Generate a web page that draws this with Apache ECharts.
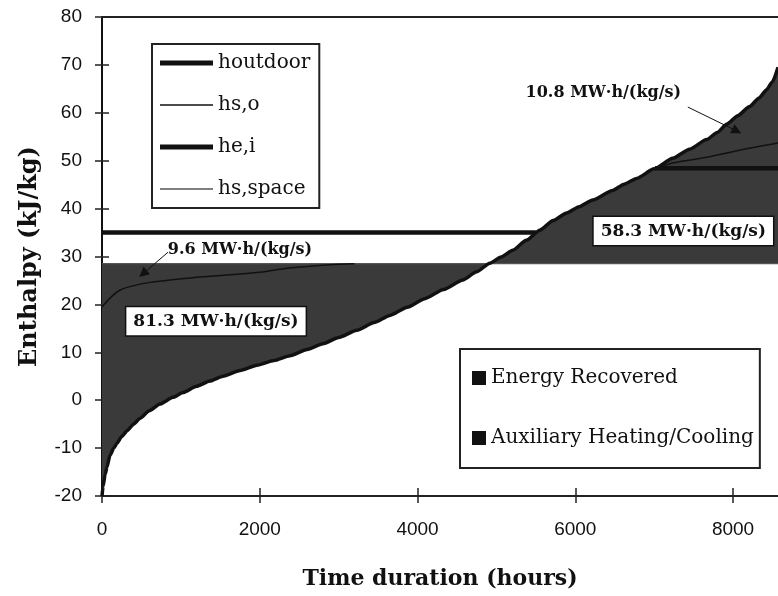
<!DOCTYPE html>
<html><head><meta charset="utf-8">
<script src="https://cdn.jsdelivr.net/npm/echarts@6/dist/echarts.min.js"></script>
<style>html,body{margin:0;padding:0;background:#fff}#c{width:778px;height:596px}</style>
</head><body><div id="c"></div>
<script>
// ---- data (hours, kJ/kg) ----
const xTickValues = [0, 2000, 4000, 6000, 8000];
const yTickValues = [-20, -10, 0, 10, 20, 30, 40, 50, 60, 70, 80];
const houtdoor = [[0,-20],[13,-18],[40,-15.5],[63,-14],[101,-11.5],[150,-10],[190,-9],[250,-7.6],[317,-6.4],[400,-5],[481,-3.8],[600,-2.2],[735,-0.8],[900,0.6],[1026,1.6],[1200,2.9],[1368,4.0],[1533,5.0],[1750,6.2],[1964,7.3],[2180,8.3],[2382,9.3],[2600,10.6],[2800,11.8],[3000,13.1],[3231,14.6],[3450,16.2],[3649,17.7],[3870,19.4],[4092,21.2],[4330,23.1],[4574,25.1],[4750,26.8],[4916,28.6],[5060,29.9],[5207,31.3],[5380,33.4],[5549,35.5],[5720,37.5],[5891,39.1],[6050,40.4],[6221,41.8],[6474,43.8],[6620,45.1],[6778,46.3],[7000,48.3],[7234,50.5],[7450,52.4],[7665,54.4],[7800,55.9],[7918,57.6],[8060,59.4],[8210,61.3],[8330,63.1],[8425,64.8],[8500,66.5],[8570,69.5]];
const hsoHeating = [[0,19.5],[230,23],[610,24.6],[1240,25.7],[2000,26.7],[2380,27.6],[2900,28.3],[3200,28.5]];
const hsoCooling = [[7030,48.4],[7234,49.5],[7665,50.7],[8083,52.2],[8570,53.7]];
const heiHeating = [[0,35],[5500,35]];
const heiCooling = [[7010,48.4],[8570,48.4]];
const hsSpace = [[0,28.5],[8570,28.5]];
const areaLabels = ['81.3 MW·h/(kg/s)', '58.3 MW·h/(kg/s)'];
const arrowLabels = ['9.6 MW·h/(kg/s)', '10.8 MW·h/(kg/s)'];
const supplyBase = 28.5;

// ---- annotation anchors (data coordinates) ----
const areaLabelAt = [[1445,16.5],[7370,35.3]];
const arrowLabelAt = [[1749,31.4],[6356,64.1]];
const arrowFrom = [[837,30.9],[7427,61.2]];
const arrowTo = [[520,26.4],[8048,56.2]];

const X_MAX = 8570;
const GAP = [6000, '-'];
const dark = '#3a3a3a', ink = '#111';
const serif = 'DejaVu Serif';
const tickFont = '"Liberation Sans", Arial, sans-serif';

const chart = echarts.init(document.getElementById('c'), null, {renderer: 'canvas'});

const boxLabel = {
  show: true, position: 'inside', fontFamily: serif, fontWeight: 'bold', fontSize: 17, color: ink,
  backgroundColor: '#fff', borderColor: ink, borderWidth: 1.5, padding: [6, 7, 5, 7]
};
const plainLabel = {show: true, position: 'inside', fontFamily: serif, fontWeight: 'bold', fontSize: 16, color: ink};

const markPoints = [];
areaLabels.forEach((t, i) => markPoints.push({coord: areaLabelAt[i], value: t, label: Object.assign({formatter: t}, boxLabel)}));
arrowLabels.forEach((t, i) => markPoints.push({coord: arrowLabelAt[i], value: t, label: Object.assign({formatter: t}, plainLabel)}));

const xBase = {type: 'value', min: 0, max: X_MAX, interval: 2000, gridIndex: 0, splitLine: {show: false}};
const yBase = {type: 'value', min: -20, max: 80, interval: 10, gridIndex: 0, splitLine: {show: false}};

const option = {
  animation: false,
  backgroundColor: '#fff',
  grid: {left: 102, right: 0, top: 17, bottom: 100, containLabel: false},
  xAxis: [
    Object.assign({}, xBase, {
      position: 'bottom',
      axisLine: {show: true, onZero: false, lineStyle: {color: '#222', width: 2}},
      axisTick: {show: true, length: 7, customValues: xTickValues, lineStyle: {color: '#222', width: 1.5}},
      axisLabel: {margin: 24, fontFamily: tickFont, fontSize: 19, color: ink, customValues: xTickValues,
        formatter: v => String(v)},
      name: 'Time duration (hours)', nameLocation: 'middle', nameGap: 72,
      nameTextStyle: {fontFamily: serif, fontWeight: 'bold', fontSize: 22, color: ink}
    }),
    Object.assign({}, xBase, {
      position: 'bottom',
      axisLine: {show: false, onZero: false},
      axisTick: {show: true, inside: true, length: 8, customValues: xTickValues, lineStyle: {color: '#222', width: 1.5}},
      axisLabel: {show: false}
    }),
    Object.assign({}, xBase, {
      position: 'top',
      axisLine: {show: true, onZero: false, lineStyle: {color: '#222', width: 2}},
      axisTick: {show: false}, axisLabel: {show: false}
    })
  ],
  yAxis: [
    Object.assign({}, yBase, {
      position: 'left',
      axisLine: {show: true, onZero: false, lineStyle: {color: ink, width: 2}},
      axisTick: {show: true, length: 7, lineStyle: {color: '#222', width: 1.5}},
      axisLabel: {margin: 20, fontFamily: tickFont, fontSize: 19, color: ink,
        formatter: v => yTickValues.indexOf(v) >= 0 ? String(v) : ''},
      name: 'Enthalpy (kJ/kg)', nameLocation: 'middle', nameGap: 60,
      nameTextStyle: {fontFamily: serif, fontWeight: 'bold', fontSize: 24, color: ink}
    }),
    Object.assign({}, yBase, {
      position: 'left',
      axisLine: {show: false, onZero: false},
      axisTick: {show: true, inside: true, length: 7, lineStyle: {color: '#222', width: 1.5}},
      axisLabel: {show: false}
    })
  ],
  legend: [
    {
      orient: 'vertical', left: 152, top: 44, padding: [9, 9, 9, 8],
      itemWidth: 53, itemHeight: 14, itemGap: 22, itemTextGap: 3,
      selectedMode: false, backgroundColor: '#fff', borderColor: '#222', borderWidth: 2,
      itemStyle: {borderWidth: 0},
      textStyle: {fontFamily: serif, fontSize: 20, color: ink, lineHeight: 20},
      data: [
        {name: 'houtdoor', icon: 'path://M0,0H53V5H0Z'},
        {name: 'hs,o', icon: 'path://M0,0H53V1.6H0Z'},
        {name: 'he,i', icon: 'path://M0,0H53V5H0Z'},
        {name: 'hs,space', icon: 'path://M0,0H53V1.6H0Z'}
      ]
    },
    {
      orient: 'vertical', left: 460, top: 349, padding: [19, 6, 20, 12],
      itemWidth: 14, itemHeight: 14, itemGap: 40, itemTextGap: 5,
      selectedMode: false, backgroundColor: '#fff', borderColor: '#222', borderWidth: 2,
      itemStyle: {borderWidth: 0},
      textStyle: {fontFamily: serif, fontSize: 20, color: ink, lineHeight: 20},
      data: [
        {name: 'Energy Recovered', icon: 'rect', itemStyle: {color: ink}},
        {name: 'Auxiliary Heating/Cooling', icon: 'rect', itemStyle: {color: ink}}
      ]
    }
  ],
  series: [
    {
      name: 'Energy Recovered', type: 'line', data: houtdoor, symbol: 'none', smooth: 0.2, smoothMonotone: 'x',
      color: ink, lineStyle: {width: 0}, areaStyle: {color: dark, opacity: 1, origin: supplyBase}, z: 1
    },
    {
      name: 'Auxiliary Heating/Cooling', type: 'line', data: hsoHeating, symbol: 'none', smooth: 0.3,
      color: ink, lineStyle: {width: 0}, areaStyle: {color: dark, opacity: 1, origin: supplyBase}, z: 1
    },
    {
      name: 'hs,space', type: 'line', data: hsSpace, symbol: 'none', color: '#555',
      lineStyle: {width: 1.2, color: '#555'}, z: 2,
      markLine: {
        silent: true, symbol: ['none', 'triangle'], symbolSize: 10,
        lineStyle: {color: ink, width: 1, type: 'solid'}, label: {show: false},
        data: arrowFrom.map((f, i) => [{coord: f}, {coord: arrowTo[i]}])
      },
      markPoint: {
        silent: true, symbol: 'rect', symbolSize: 1, itemStyle: {color: 'rgba(0,0,0,0)'},
        data: markPoints
      }
    },
    {
      name: 'he,i', type: 'line', data: heiHeating.concat([GAP], heiCooling), symbol: 'none', color: ink,
      lineStyle: {width: 4.5, color: ink}, z: 3
    },
    {
      name: 'hs,o', type: 'line', data: hsoHeating.concat([GAP], hsoCooling), symbol: 'none', smooth: 0.3, color: ink,
      lineStyle: {width: 1.5, color: ink}, z: 3
    },
    {
      name: 'houtdoor', type: 'line', data: houtdoor, symbol: 'none', smooth: 0.2, smoothMonotone: 'x', color: ink,
      lineStyle: {width: 3.5, color: ink}, z: 4
    }
  ]
};
chart.setOption(option);
</script>
</body></html>
